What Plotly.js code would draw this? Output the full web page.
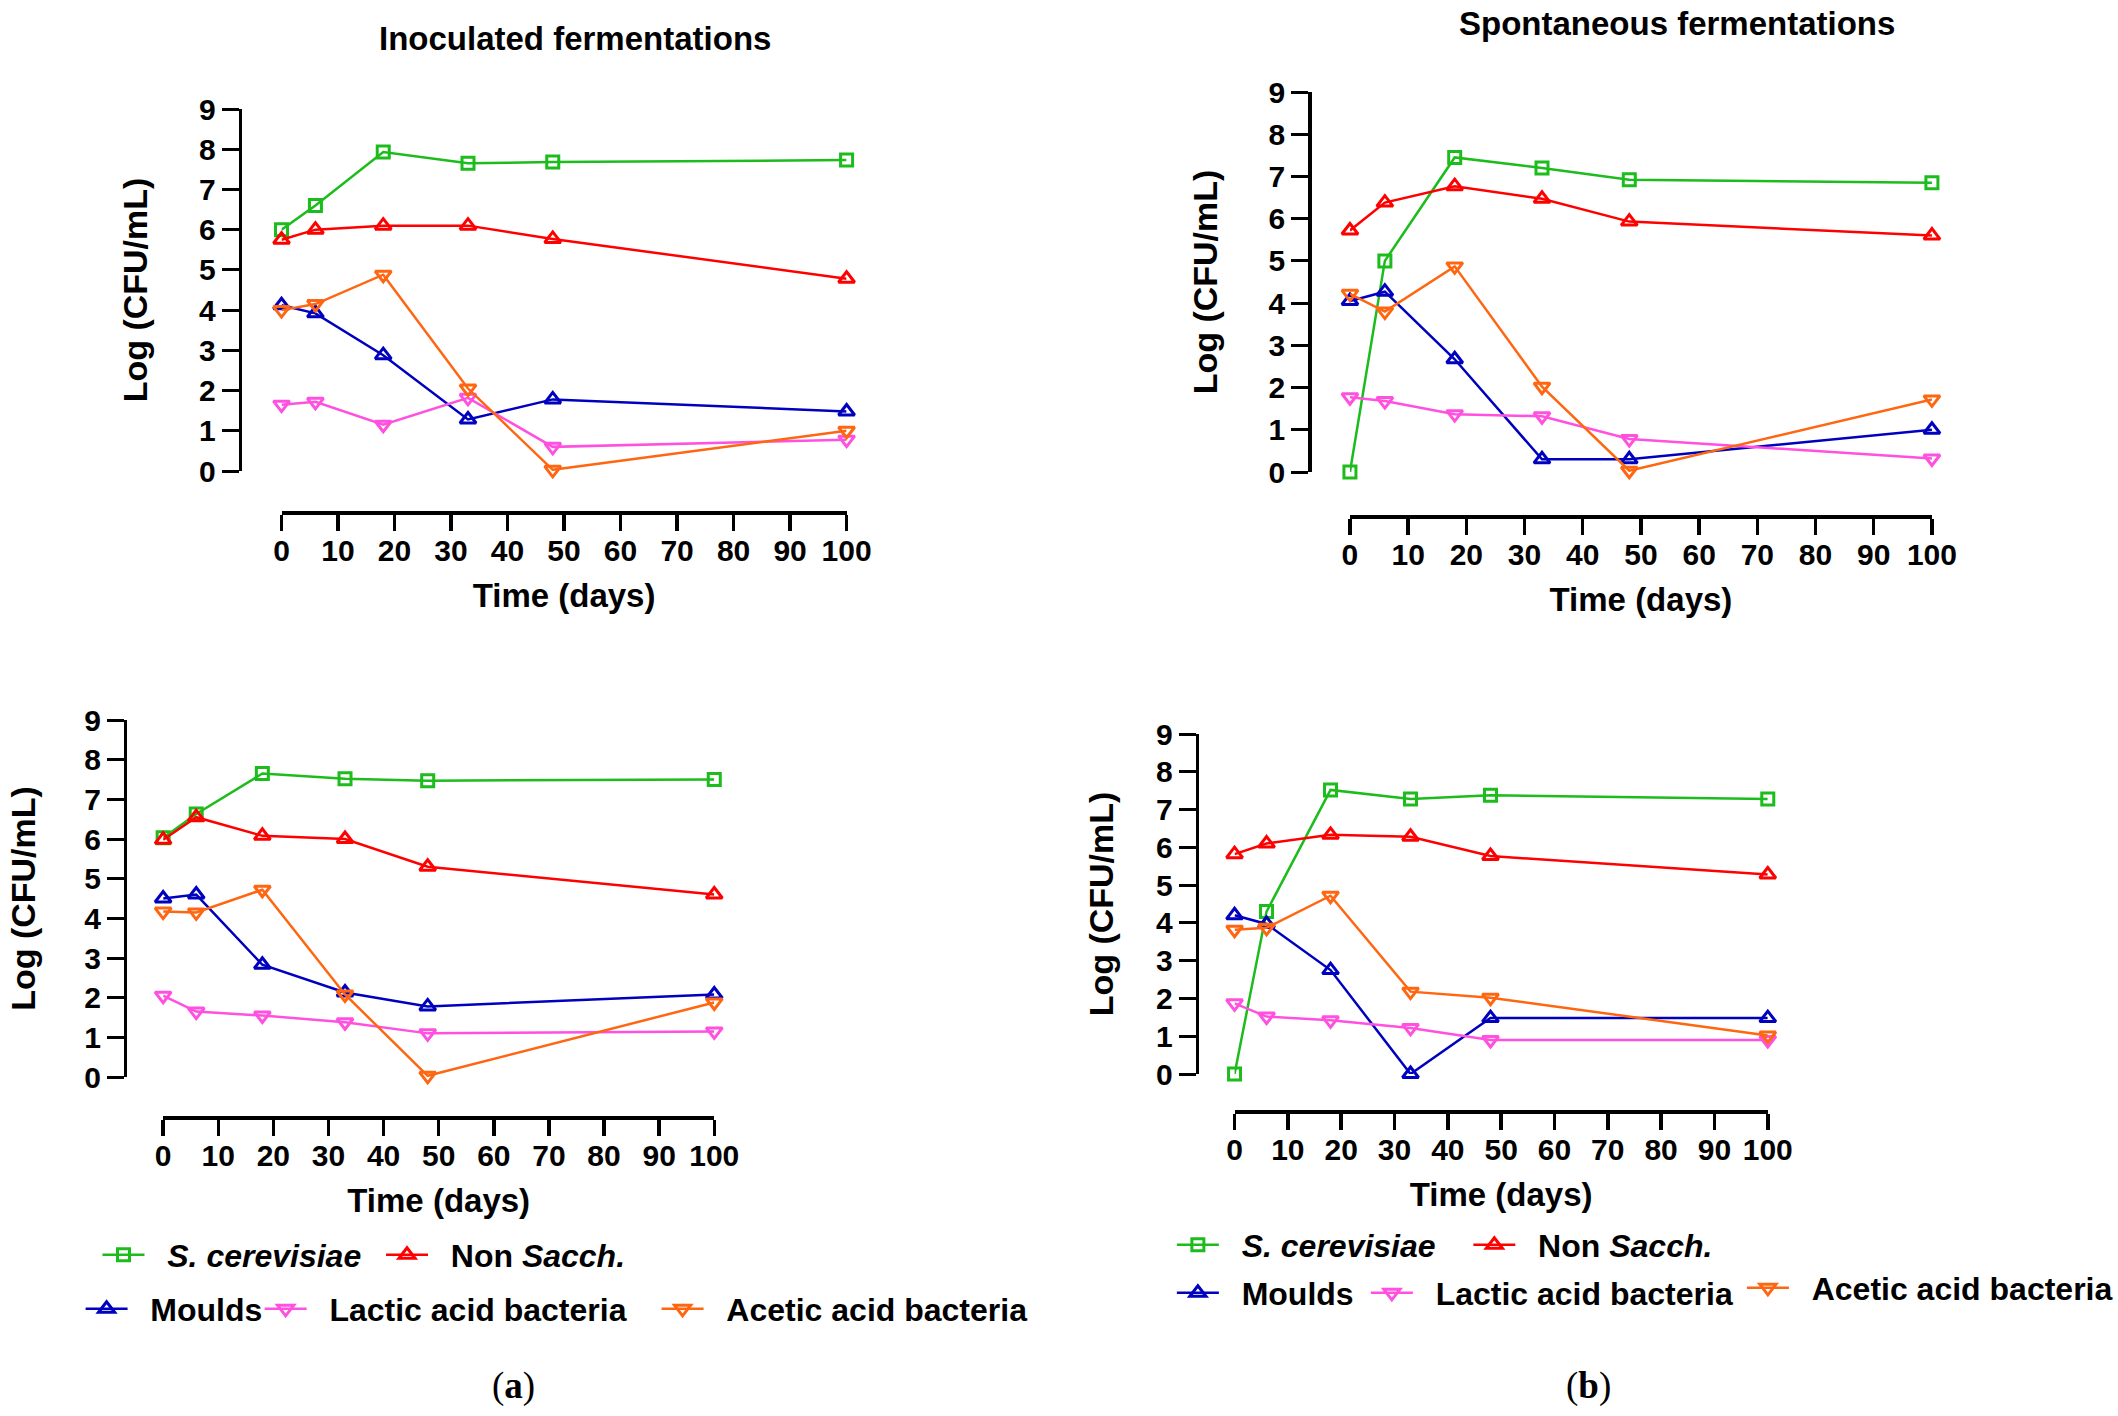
<!DOCTYPE html>
<html>
<head>
<meta charset="utf-8">
<script src="https://cdn.plot.ly/plotly-3.0.1.min.js"></script>
<style>
  body { margin: 0; background: #ffffff; }
  #myDiv { width: 2118px; height: 1416px; }
</style>
</head>
<body>
<div id="myDiv"></div>
<script>
const W = 2118;
const H = 1416;

// sampling days, same for every panel
const days = [0, 6, 18, 33, 48, 100];

const seriesNames = ['<i>S. cerevisiae</i>', 'Non <i>Sacch.</i>', 'Moulds', 'Lactic acid bacteria', 'Acetic acid bacteria'];
const seriesColors = ['#1cbc1c', '#ff0000', '#0000bf', '#ff50df', '#ff6611'];
const seriesSymbols = ['square-open', 'triangle-up-open', 'triangle-up-open', 'triangle-down-open', 'triangle-down-open'];
const seriesSizes = [12, 14, 14, 14, 14];

// (a) top - Inoculated fermentations
const aTopScer   = [6.0, 6.6, 7.93, 7.65, 7.68, 7.73];
const aTopNonS   = [5.75, 6.0, 6.1, 6.1, 5.77, 4.78];
const aTopMoulds = [4.12, 3.92, 2.88, 1.28, 1.78, 1.48];
const aTopLab    = [1.65, 1.72, 1.15, 1.82, 0.6, 0.78];
const aTopAab    = [4.0, 4.15, 4.88, 2.05, 0.03, 1.0];

// (b) top - Spontaneous fermentations
const bTopScer   = [0.0, 5.0, 7.45, 7.2, 6.92, 6.85];
const bTopNonS   = [5.72, 6.38, 6.77, 6.47, 5.93, 5.6];
const bTopMoulds = [4.05, 4.27, 2.67, 0.3, 0.3, 1.0];
const bTopLab    = [1.77, 1.68, 1.37, 1.32, 0.78, 0.32];
const bTopAab    = [4.22, 3.8, 4.87, 2.02, 0.03, 1.72];

// (a) bottom
const aBotScer   = [6.03, 6.63, 7.65, 7.52, 7.47, 7.5];
const aBotNonS   = [5.98, 6.55, 6.08, 6.0, 5.3, 4.6];
const aBotMoulds = [4.5, 4.6, 2.83, 2.13, 1.78, 2.08];
const aBotLab    = [2.05, 1.65, 1.55, 1.38, 1.1, 1.15];
const aBotAab    = [4.17, 4.15, 4.72, 2.08, 0.03, 1.88];

// (b) bottom
const bBotScer   = [0.0, 4.3, 7.52, 7.28, 7.38, 7.28];
const bBotNonS   = [5.82, 6.1, 6.33, 6.28, 5.77, 5.28];
const bBotMoulds = [4.2, 3.97, 2.75, 0.0, 1.48, 1.48];
const bBotLab    = [1.87, 1.52, 1.42, 1.22, 0.9, 0.9];
const bBotAab    = [3.82, 3.87, 4.72, 2.18, 2.02, 1.02];

const xTicks = [0, 10, 20, 30, 40, 50, 60, 70, 80, 90, 100];
const yTicks = [0, 1, 2, 3, 4, 5, 6, 7, 8, 9];

// panel boxes in pixels: x0/x100 and y0/y9 ends, plus where the detached axis lines sit
const panels = [
  {id: '',  data: [aTopScer, aTopNonS, aTopMoulds, aTopLab, aTopAab], left: 283, right: 851, top: 109, bottom: 471, yLine: 241, xLine: 513, yStand: 39},
  {id: '2', data: [bTopScer, bTopNonS, bTopMoulds, bTopLab, bTopAab], left: 1357, right: 1942, top: 92, bottom: 472, yLine: 1316, xLine: 517, yStand: 39},
  {id: '3', data: [aBotScer, aBotNonS, aBotMoulds, aBotLab, aBotAab], left: 164, right: 718, top: 720, bottom: 1077, yLine: 125.5, xLine: 1118, yStand: 37},
  {id: '4', data: [bBotScer, bBotNonS, bBotMoulds, bBotLab, bBotAab], left: 1241, right: 1777, top: 734, bottom: 1074, yLine: 1203, xLine: 1112, yStand: 30},
];

// legend entries: panel index, series index, text start x, row centre y (pixels)
const legendSpots = [
  [2, 0, 168, 1255], [2, 1, 453, 1255], [2, 2, 151, 1309], [2, 3, 331, 1309], [2, 4, 730, 1309],
  [3, 0, 1248, 1245], [3, 1, 1546, 1245], [3, 2, 1248, 1293], [3, 3, 1443, 1293], [3, 4, 1821, 1288],
];

const fontFamily = 'Arial, "Liberation Sans", sans-serif';
const serifFamily = '"Liberation Serif", "Times New Roman", serif';
const itemWidth = 42;
const textPad = '&nbsp;&nbsp;';

let traces = [];
let layout = {
  width: W,
  height: H,
  margin: {l: 0, r: 0, t: 0, b: 0},
  paper_bgcolor: '#ffffff',
  plot_bgcolor: '#ffffff',
  showlegend: true,
  font: {family: fontFamily, color: '#000000'},
  annotations: [],
};

panels.forEach((p, pi) => {
  p.data.forEach((values, si) => {
    let trace = {
      x: days,
      y: values,
      xaxis: 'x' + p.id,
      yaxis: 'y' + p.id,
      type: 'scatter',
      mode: 'lines+markers',
      name: textPad + seriesNames[si],
      cliponaxis: false,
      showlegend: false,
      line: {color: seriesColors[si], width: 2.5},
      marker: {symbol: seriesSymbols[si], size: seriesSizes[si], color: seriesColors[si], line: {color: seriesColors[si], width: 3}},
    };
    legendSpots.forEach((spot, li) => {
      if (spot[0] === pi && spot[1] === si) {
        trace.showlegend = true;
        trace.legend = li === 0 ? 'legend' : 'legend' + (li + 1);
      }
    });
    traces.push(trace);
  });

  layout['xaxis' + p.id] = {
    domain: [p.left / W, p.right / W],
    range: [0, 100],
    anchor: 'free',
    position: 1 - p.xLine / H,
    tickvals: xTicks,
    ticks: 'outside',
    ticklen: 16,
    tickwidth: 3.5,
    tickcolor: '#000000',
    ticklabelstandoff: -6,
    showline: true,
    linewidth: 4,
    linecolor: '#000000',
    showgrid: false,
    zeroline: false,
    fixedrange: true,
    automargin: false,
    tickfont: {family: fontFamily, size: 30, weight: 'bold'},
    title: {text: 'Time (days)', standoff: 17, font: {family: fontFamily, size: 33, weight: 'bold'}},
  };
  layout['yaxis' + p.id] = {
    domain: [1 - p.bottom / H, 1 - p.top / H],
    range: [0, 9],
    anchor: 'free',
    position: p.yLine / W,
    tickvals: yTicks,
    ticks: 'outside',
    ticklen: 17,
    tickwidth: 3,
    tickcolor: '#000000',
    showline: true,
    linewidth: 3.5,
    linecolor: '#000000',
    showgrid: false,
    zeroline: false,
    fixedrange: true,
    automargin: false,
    tickfont: {family: fontFamily, size: 30, weight: 'bold'},
    title: {text: 'Log (CFU/mL)', standoff: p.yStand, font: {family: fontFamily, size: 34, weight: 'bold'}},
  };
});

legendSpots.forEach((spot, li) => {
  const key = li === 0 ? 'legend' : 'legend' + (li + 1);
  layout[key] = {
    x: (spot[2] - itemWidth - 28) / W,
    y: 1 - spot[3] / H,
    xanchor: 'left',
    yanchor: 'middle',
    orientation: 'h',
    itemwidth: itemWidth,
    borderwidth: 0,
    bgcolor: 'rgba(0,0,0,0)',
    font: {family: fontFamily, size: 32, weight: 'bold', color: '#000000'},
  };
});

// panel titles and (a)/(b) labels
const labelSpots = [
  ['<b>Inoculated fermentations</b>', 578, 38, fontFamily, 33],
  ['<b>Spontaneous fermentations</b>', 1686, 23, fontFamily, 33],
  ['(<b>a</b>)', 516, 1386, serifFamily, 37],
  ['(<b>b</b>)', 1597, 1386, serifFamily, 37],
];
labelSpots.forEach((l) => {
  layout.annotations.push({
    text: l[0], x: l[1] / W, y: 1 - l[2] / H, xref: 'paper', yref: 'paper',
    xanchor: 'center', yanchor: 'middle', showarrow: false,
    font: {family: l[3], size: l[4], color: '#000000'},
  });
});

Plotly.newPlot('myDiv', traces, layout, {staticPlot: true});
</script>
</body>
</html>
